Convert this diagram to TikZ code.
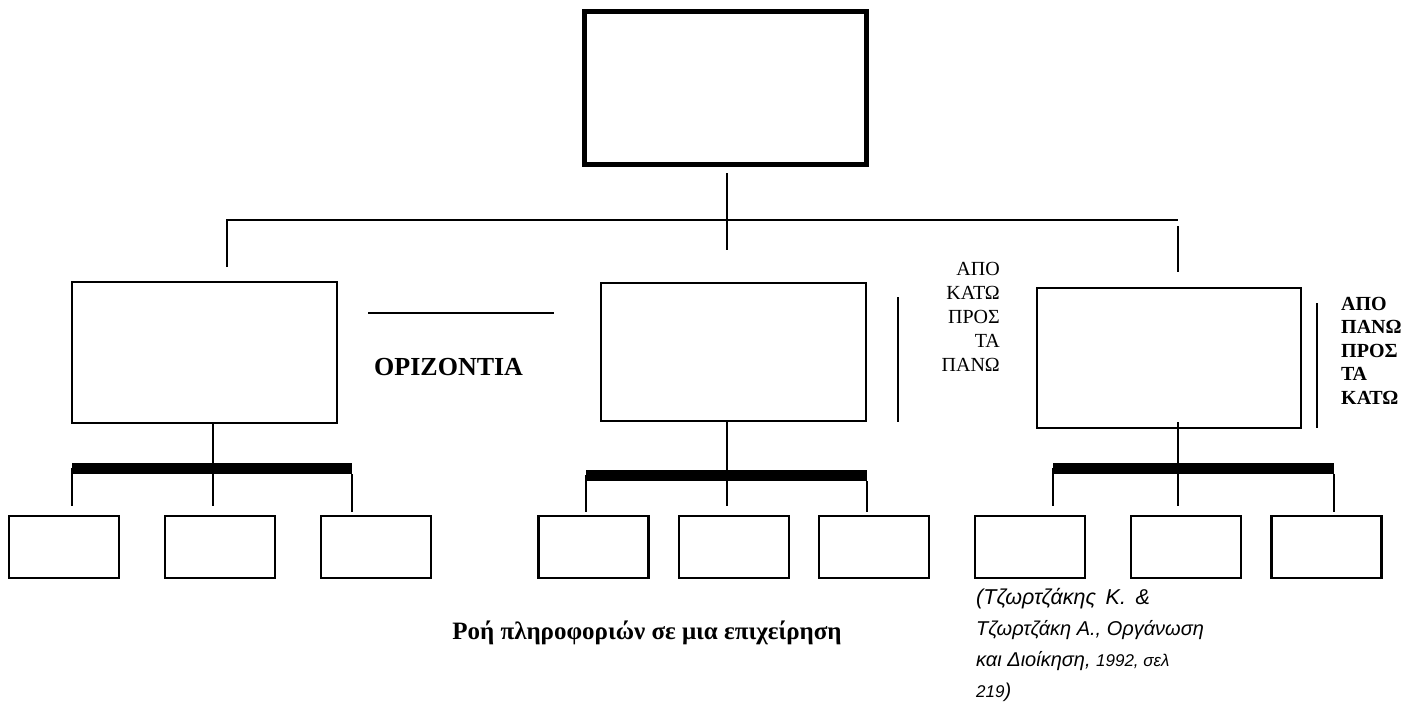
\documentclass[tikz,border=0pt]{standalone}
\usepackage{fontspec}
\setmainfont{Liberation Serif}
\newfontfamily\citefont{Liberation Sans}
\begin{document}
\begin{tikzpicture}[x=1pt,y=-1pt,
  orgbox/.style={draw, line width=2.2pt, inner sep=0pt, fill=white},
  link/.style={line width=2pt},
  busbar/.style={line width=11pt},
  lbl/.style={inner sep=0pt, font=\fontsize{20}{24}\selectfont},
  lblbold/.style={inner sep=0pt, font=\bfseries\fontsize{20}{24}\selectfont},
  citeline/.style={inner sep=0pt, anchor=base west, font=\citefont\itshape\fontsize{20}{24}\selectfont},
]
\useasboundingbox (0,0) rectangle (1418,704);

% head of the organisation
\node[orgbox, line width=5pt, minimum width=282pt, minimum height=153pt] (top) at (725,87.5) {};

% middle level
\node[orgbox, minimum width=265pt, minimum height=141pt] (ml) at (204.5,352.5) {};
\node[orgbox, minimum width=265pt, minimum height=138pt] (mm) at (733.5,352) {};
\node[orgbox, minimum width=264pt, minimum height=140pt] (mr) at (1169,358) {};

% lowest level
\foreach \n/\cx in {l1/64, l2/220, l3/376, m1/593.5, m2/734, m3/874, r1/1030, r2/1186, r3/1326.5}
  \node[orgbox, minimum width=110pt, minimum height=62pt] (\n) at (\cx,547) {};

% connections from the head
\coordinate (hubtop) at (727,173);
\coordinate (hubbot) at (727,250);
\coordinate (hleft) at (227,220);
\coordinate (hright) at (1178,220);
\coordinate (ldrop) at (227,267);
\coordinate (rtickA) at (1178,226);
\coordinate (rtickB) at (1178,272);
\draw[link] (hubtop) -- (hubbot);
\draw[link] (ldrop) -- (hleft) -- (hright);
\draw[link] (rtickA) -- (rtickB);

% left group
\coordinate (lsA) at (213,423);
\coordinate (lsB) at (213,464);
\coordinate (lbarA) at (72,468.5);
\coordinate (lbarB) at (352,468.5);
\draw[link] (lsA) -- (lsB);
\draw[busbar] (lbarA) -- (lbarB);
\draw[link] (72,468) -- (72,506);
\draw[link] (213,474) -- (213,506);
\draw[link] (352,474) -- (352,512);

% middle group
\coordinate (msA) at (727,421);
\coordinate (msB) at (727,471);
\coordinate (mbarA) at (586,475.5);
\coordinate (mbarB) at (867,475.5);
\draw[link] (msA) -- (msB);
\draw[busbar] (mbarA) -- (mbarB);
\draw[link] (586,475) -- (586,512);
\draw[link] (727,481) -- (727,506);
\draw[link] (867,481) -- (867,512);

% right group
\coordinate (rsA) at (1178,422);
\coordinate (rsB) at (1178,464);
\coordinate (rbarA) at (1053,468.5);
\coordinate (rbarB) at (1334,468.5);
\draw[link] (rsA) -- (rsB);
\draw[busbar] (rbarA) -- (rbarB);
\draw[link] (1053,468) -- (1053,506);
\draw[link] (1178,474) -- (1178,506);
\draw[link] (1334,474) -- (1334,512);

% direction markers
\coordinate (hzA) at (368,313);
\coordinate (hzB) at (554,313);
\draw[link] (hzA) -- (hzB);
\coordinate (upA) at (898,297);
\coordinate (upB) at (898,422);
\draw[link] (upA) -- (upB);
\coordinate (dnA) at (1317,303);
\coordinate (dnB) at (1317,428);
\draw[link] (dnA) -- (dnB);

% labels
\node[inner sep=0pt, anchor=base west, font=\bfseries\fontsize{26}{30}\selectfont] (horiz) at (374,375) {ΟΡΙΖΟΝΤΙΑ};

\foreach \t [count=\k from 0] in {ΑΠΟ, ΚΑΤΩ, ΠΡΟΣ, ΤΑ, ΠΑΝΩ}
  \node[lbl, anchor=base east] (up\k) at (1000,275+24*\k) {\t};

\foreach \t [count=\k from 0] in {ΑΠΟ, ΠΑΝΩ, ΠΡΟΣ, ΤΑ, ΚΑΤΩ}
  \node[lblbold, anchor=base west] (dn\k) at (1341,310+23.5*\k) {\t};

\node[inner sep=0pt, anchor=base, font=\bfseries\fontsize{25}{29}\selectfont] (caption) at (647,639) {Ροή πληροφοριών σε μια επιχείρηση};

\node[citeline, font=\citefont\itshape\fontsize{21.5}{24}\selectfont] (citeA) at (976,604) {(Τζωρτζάκης\hspace{0.45em}Κ.\hspace{0.45em}\&};
\node[citeline] (citeB) at (976,635) {Τζωρτζάκη Α., Οργάνωση};
\node[citeline] (citeC) at (976,666) {και Διοίκηση, {\fontsize{17}{20}\selectfont 1992, σελ}};
\node[citeline] (citeD) at (976,697) {{\fontsize{17}{20}\selectfont 219})};
\end{tikzpicture}
\end{document}
